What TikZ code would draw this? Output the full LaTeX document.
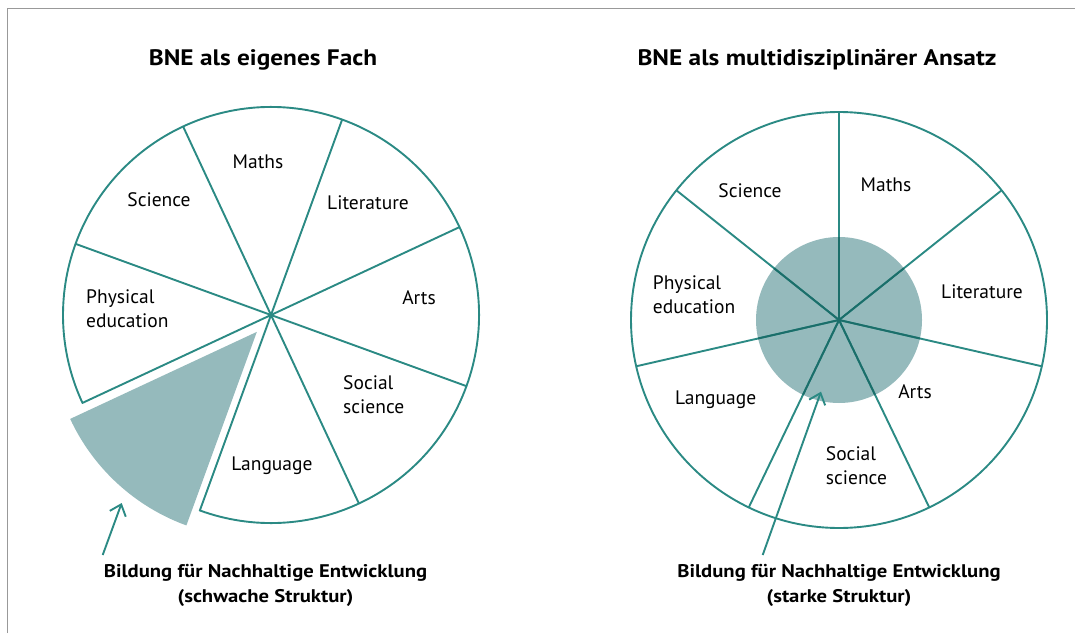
\documentclass[tikz,border=0pt]{standalone}
\usepackage{fontspec}
\setmainfont{PT Sans}[BoldFeatures={FakeStretch=1.13}]
\usetikzlibrary{arrows.meta,calc}
\definecolor{bneteal}{HTML}{2B8A84}
\definecolor{bnedark}{HTML}{1B6E6A}
\definecolor{bneshade}{HTML}{95BABC}
\definecolor{framegray}{HTML}{999999}
\tikzset{
  ring/.style={draw=bneteal, line width=1.9pt, line join=round},
  spoke/.style={draw=bneteal, line width=1.9pt},
  darkspoke/.style={draw=bnedark, line width=1.9pt},
  lbl/.style={inner sep=0pt, font=\fontsize{19.5}{24}\selectfont, text=black},
  lbltwo/.style={lbl, anchor=west, align=left},
  ttl/.style={inner sep=0pt, anchor=base, font=\fontsize{22.4}{25}\selectfont\bfseries},
  captxt/.style={inner sep=0pt, align=center, font=\fontsize{18.3}{25}\selectfont\bfseries},
  pointer/.style={draw=bneteal, line width=1.9pt, -{Straight Barb[length=10pt,width=17pt]}}
}
\begin{document}
\begin{tikzpicture}[x=1pt,y=1pt]
\useasboundingbox (0,0) rectangle (1075,633);
\draw[framegray, line width=1.5pt] (7.5,0) -- (7.5,624.5) -- (1075,624.5);

% ---------- left pie ----------
\coordinate (L) at (271,318);
\coordinate (Ls) at ($(L)+(230:22pt)$);
\fill[bneshade] (Ls) -- ++(205:206pt) arc[start angle=205,end angle=250,radius=206pt] -- cycle;
\draw[ring] (L) -- ++(250:208pt) arc[start angle=250,end angle=565,radius=208pt] -- cycle;
\foreach \a in {160,115,70,25,-20,-65} \draw[spoke] (L) -- ++(\a:208pt);

\node[lbl] (lmaths) at (258,471) {Maths};
\node[lbl] (lscience) at (159,433) {Science};
\node[lbl] (llit) at (368,430) {Literature};
\node[lbl] (larts) at (419,335) {Arts};
\node[lbltwo] (lpe) at (86,324) {Physical\\education};
\node[lbltwo] (lsoc) at (343,238) {Social\\science};
\node[lbl] (llang) at (272,167) {Language};

\node[ttl] (ltitle) at (263,567) {BNE als eigenes Fach};
\node[captxt] (lcap) at (265.5,48) {Bildung für Nachhaltige Entwicklung\\(schwache Struktur)};
\coordinate (la0) at (102.7,78);
\coordinate (la1) at (121.7,130);
\draw[pointer] (la0) -- (la1);

% ---------- right pie ----------
\coordinate (R) at (839,313);
\fill[bneshade] (R) circle[radius=83pt];
\draw[ring] (R) circle[radius=208pt];
\foreach \k in {0,...,6} \draw[spoke] (R) -- ++({90-\k*360/7}:208pt);
\begin{scope}
  \clip (R) circle[radius=83pt];
  \foreach \k in {0,...,6} \draw[darkspoke] (R) -- ++({90-\k*360/7}:208pt);
\end{scope}

\node[lbl] (rmaths) at (886,448) {Maths};
\node[lbl] (rscience) at (750,442) {Science};
\node[lbl] (rlit) at (982,341.3) {Literature};
\node[lbltwo] (rpe) at (652.7,338.7) {Physical\\education};
\node[lbl] (rlang) at (715.7,233.7) {Language};
\node[lbl] (rarts) at (915,241.3) {Arts};
\node[lbltwo] (rsoc) at (825.7,167.5) {Social\\science};

\node[ttl] (rtitle) at (817,567) {BNE als multidisziplinärer Ansatz};
\node[captxt] (rcap) at (839,48) {Bildung für Nachhaltige Entwicklung\\(starke Struktur)};
\coordinate (ra0) at (762.7,78);
\coordinate (ra1) at (821,241.3);
\draw[pointer] (ra0) -- (ra1);
\end{tikzpicture}
\end{document}
